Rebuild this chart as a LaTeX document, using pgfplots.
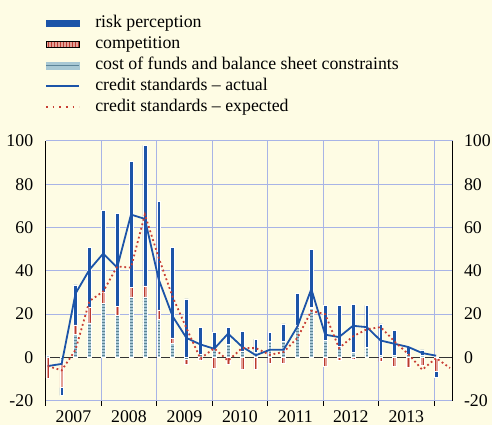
\documentclass[border=0pt]{standalone}
\usepackage{fontspec}
\setmainfont{Liberation Serif}
\usepackage{pgfplots}
\usepackage{pgfplotstable}
\pgfplotsset{compat=1.18}
\usetikzlibrary{patterns}

\definecolor{bgc}{RGB}{254,252,228}
\definecolor{riskc}{RGB}{28,84,168}
\definecolor{compc}{RGB}{228,160,150}
\definecolor{compd}{RGB}{185,58,48}
\definecolor{costc}{RGB}{168,200,212}
\definecolor{costd}{RGB}{92,132,152}
\definecolor{gridc}{RGB}{168,180,230}
\definecolor{expc}{RGB}{200,62,52}
\newcommand{\cf}{\fontsize{17.8}{21}\selectfont}

% bars: positive (p) and negative (n) parts of cost of funds (c), competition (m), risk perception (r)
\pgfplotstableread{
i cp mp rp cn mn rn
0 1 0 0 0 -9.5 0
1 0 0 0 -2 -12 -3.5
2 10.8 4.2 18.5 0 0 0
3 16 7 28 0 0 0
4 25 5 38 0 0 0
5 19.5 4 43 0 0 0
6 28 4.5 58 0 0 0
7 28 5 65 0 0 0
8 17.5 4.5 50 0 0 0
9 6.5 2.5 42 0 0 0
10 0 0 27 -1 -2 0
11 1.5 0 12.3 0 -1.5 0
12 4 0 7.5 0 -5 0
13 6 0 8 0 -3 0
14 3 0 9 0 -5.5 0
15 2.5 0 6 0 -5.5 0
16 7.5 0 4 0 -2.5 0
17 7.5 0 8 0 -2.5 0
18 14 1 14.5 0 0 0
19 22.5 0.5 27 0 0 0
20 8 0 16 0 -4 0
21 5 0 19 0 -1.5 0
22 2.5 0 22 0 -1 0
23 4.5 0 19.5 0 0 0
24 1 0 14.5 0 -2 0
25 1 0 11.5 0 -4 0
26 1.5 0 3.5 0 -4.5 0
27 1 0 2.5 0 -3.5 0
28 0 0 0 -0.5 -6 -2.5
}\bars

\pgfplotstableread{
i act expd
0 -4 -4
1 -3 -6
2 29.5 3.5
3 40.5 26
4 48 30.5
5 41.5 42
6 66 41.5
7 64 66
8 36 46
9 19 28
10 9 13.5
11 6 -0.5
12 4 4.2
13 11 -1.5
14 5 4.3
15 1 4.3
16 3.5 1.2
17 3.5 2.5
18 14.3 9
19 31.6 21.5
20 10.5 20
21 9.4 4.3
22 14.6 9.7
23 14 13
24 7.8 14
25 6.3 7.4
26 4.8 1.5
27 2 -5.7
28 0.8 -0.3
29 nan -4.9
}\lines

\pgfplotsset{base/.style={
  scale only axis, width=406.8pt, height=259.7pt,
  at={(45.7pt,24.3pt)}, anchor=south west,
  xmin=-0.15, xmax=29.18, ymin=-20, ymax=100, clip=false,
}}
\pgfplotsset{barst/.style={ybar stacked, bar width=3.8pt}}

\begin{document}
\begin{tikzpicture}
\useasboundingbox (0,0) rectangle (492pt,425pt);
\fill[bgc] (0,0) rectangle (492pt,425pt);
\clip (0,0) rectangle (492pt,425pt);

% axis 1: grid, left labels, positive bars
\begin{axis}[base, barst,
  axis line style={draw=none},
  xtick={-0.15,3.85,7.85,11.85,15.85,19.85,23.85,27.85},
  xticklabels={},
  xtick pos=bottom, tick align=outside, major tick length=5pt,
  xtick style={black, line width=0.8pt},
  ytick={-20,0,20,40,60,80,100},
  ytick style={draw=none},
  yticklabel pos=left,
  yticklabel style={xshift=-4pt},
  grid=major, major grid style={gridc, line width=1pt},
  extra y ticks={0}, extra y tick labels={},
  extra y tick style={major grid style={black!80, line width=0.7pt}},
  /pgf/number format/assume math mode=true,
  ticklabel style={font=\cf},
]
\addplot[fill=costc, draw=white, line width=0.5pt, postaction={pattern=horizontal lines, pattern color=costd}] table[x=i,y=cp] \bars;
\addplot[fill=compc, draw=white, line width=0.5pt, postaction={pattern=vertical lines, pattern color=compd}] table[x=i,y=mp] \bars;
\addplot[fill=riskc, draw=white, line width=0.5pt] table[x=i,y=rp] \bars;
\draw[black, line width=0.9pt] (rel axis cs:0,0) -- (rel axis cs:0,1);
\draw[black, line width=0.9pt] (rel axis cs:1,0) -- (rel axis cs:1,1);
\node[font=\cf, anchor=base, yshift=-22pt] at (axis cs:1.85,-20) {2007};
\node[font=\cf, anchor=base, yshift=-22pt] at (axis cs:5.85,-20) {2008};
\node[font=\cf, anchor=base, yshift=-22pt] at (axis cs:9.85,-20) {2009};
\node[font=\cf, anchor=base, yshift=-22pt] at (axis cs:13.85,-20) {2010};
\node[font=\cf, anchor=base, yshift=-22pt] at (axis cs:17.85,-20) {2011};
\node[font=\cf, anchor=base, yshift=-22pt] at (axis cs:21.85,-20) {2012};
\node[font=\cf, anchor=base, yshift=-22pt] at (axis cs:25.85,-20) {2013};
\end{axis}

% axis 2: negative bars
\begin{axis}[base, barst, hide axis]
\addplot[fill=costc, draw=white, line width=0.5pt, postaction={pattern=horizontal lines, pattern color=costd}] table[x=i,y=cn] \bars;
\addplot[fill=compc, draw=white, line width=0.5pt, postaction={pattern=vertical lines, pattern color=compd}] table[x=i,y=mn] \bars;
\addplot[fill=riskc, draw=white, line width=0.5pt] table[x=i,y=rn] \bars;
\end{axis}

% axis 3: lines, right labels, legend
\begin{axis}[base,
  axis line style={draw=none},
  xtick=\empty,
  ytick={-20,0,20,40,60,80,100},
  ytick style={draw=none},
  yticklabel pos=right,
  yticklabel style={xshift=8pt},
  /pgf/number format/assume math mode=true,
  ticklabel style={font=\cf},
  legend style={at={(axis description cs:-0.0017,1.486)}, anchor=north west,
    draw=none, fill=none, font=\cf, row sep=4.4pt, inner sep=0pt,
    nodes={inner sep=0pt, text height=12.6pt, text depth=4pt}},
  legend cell align=left,
]
\addlegendimage{legend image code/.code={\fill[riskc] (0pt,-2.6pt) rectangle (33pt,2.6pt); \path (49pt,0pt);}}
\addlegendentry{risk perception}
\addlegendimage{legend image code/.code={\fill[compc] (0pt,-2.8pt) rectangle (33pt,2.8pt); \fill[pattern=vertical lines, pattern color=compd] (0pt,-2.8pt) rectangle (33pt,2.8pt); \path (49pt,0pt);}}
\addlegendentry{competition}
\addlegendimage{legend image code/.code={\fill[costc] (0pt,-3.5pt) rectangle (33pt,3.5pt); \draw[costd, line width=1.2pt] (0pt,0pt) -- (33pt,0pt); \path (49pt,0pt);}}
\addlegendentry{cost of funds and balance sheet constraints}
\addlegendimage{legend image code/.code={\draw[riskc, line width=1.8pt] (0pt,0pt) -- (33pt,0pt); \path (49pt,0pt);}}
\addlegendentry{credit standards -- actual}
\addlegendimage{legend image code/.code={\draw[expc, line width=1.6pt, dash pattern=on 1.6pt off 5pt] (0pt,0pt) -- (33pt,0pt); \path (49pt,0pt);}}
\addlegendentry{credit standards -- expected}
\addplot[riskc, line width=1.8pt, forget plot] table[x=i,y=act] \lines;
\addplot[expc, line width=1.8pt, dash pattern=on 1.8pt off 2.8pt, forget plot] table[x=i,y=expd] \lines;
\end{axis}
\end{tikzpicture}
\end{document}
